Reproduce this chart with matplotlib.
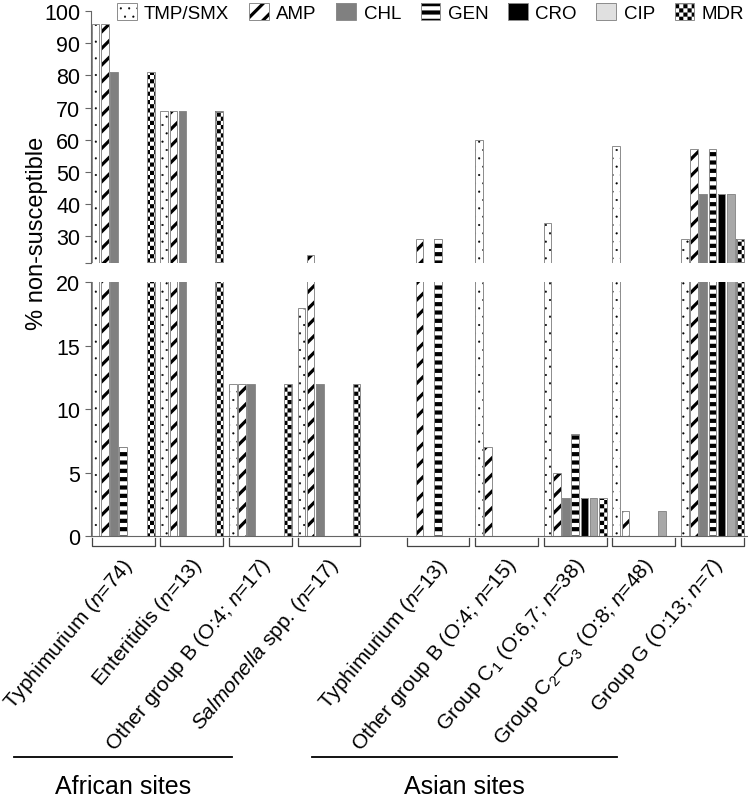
import warnings

import matplotlib
matplotlib.use("Agg")
import matplotlib.pyplot as plt
import matplotlib.hatch as mhatch
import matplotlib.transforms as mtransforms
from matplotlib.legend_handler import HandlerPatch, HandlerTuple
from matplotlib.lines import Line2D
from matplotlib.patches import Patch, Rectangle
from matplotlib.path import Path
import numpy as np

warnings.filterwarnings("ignore")

plt.rcParams['font.family'] = ['Liberation Sans', 'DejaVu Sans']
plt.rcParams['mathtext.fontset'] = 'custom'
plt.rcParams['mathtext.rm'] = 'Liberation Sans'
plt.rcParams['mathtext.it'] = 'Liberation Sans:italic'
plt.rcParams['mathtext.bf'] = 'Liberation Sans:bold'
plt.rcParams['hatch.color'] = 'black'

# ---- data (% non-susceptible) ----
drugs = ['TMP/SMX', 'AMP', 'CHL', 'GEN', 'CRO', 'CIP', 'MDR']
serotypes = [r'Typhimurium ($\mathit{n}$=74)',
             r'Enteritidis ($\mathit{n}$=13)',
             r'Other group B (O:4; $\mathit{n}$=17)',
             r'$\mathit{Salmonella}$ spp. ($\mathit{n}$=17)',
             r'Typhimurium ($\mathit{n}$=13)',
             r'Other group B (O:4; $\mathit{n}$=15)',
             r'Group C$_1$ (O:6,7; $\mathit{n}$=38)',
             r'Group C$_2$–C$_3$ (O:8; $\mathit{n}$=48)',
             r'Group G (O:13; $\mathit{n}$=7)']
sites = ['African sites', 'Asian sites']
site_of = [0, 0, 0, 0, 1, 1, 1, 1, 1]

tmp_smx = [96, 69, 12, 18, 0, 60, 34, 58, 29]
amp = [96, 69, 12, 24, 29, 7, 5, 2, 57]
chl = [81, 69, 12, 12, 0, 0, 3, 0, 43]
gen = [7, 0, 0, 0, 29, 0, 8, 0, 57]
cro = [0, 0, 0, 0, 0, 0, 3, 0, 43]
cip = [0, 0, 0, 0, 0, 0, 3, 2, 43]
mdr = [81, 69, 12, 12, 0, 0, 3, 0, 29]
values = [tmp_smx, amp, chl, gen, cro, cip, mdr]

# ---- styles ----
faces = ['white', 'white', '#808080', 'white', 'black', '#a8a8a8', 'white']
legend_faces = ['white', 'white', '#808080', 'white', 'black', '#e0e0e0', 'white']
hatches = ['..', '//', None, '--', None, None, 'cccc']
hatch_lw = [0.3, 2.3, 1.0, 3.0, 1.0, 1.0, 0.0]
EDGE = '#8c8c8c'
AXIS = '#666666'


# checkerboard hatch ('c'), not part of matplotlib's built-in set
class CheckerHatch(mhatch.HatchPatternBase):
    def __init__(self, hatch, density):
        self.num_cells = hatch.count('c') * int(density)
        self.num_vertices = (self.num_cells ** 2 // 2) * 5

    def set_vertices_and_codes(self, vertices, codes):
        step = 1.0 / self.num_cells
        k = 0
        for i in range(self.num_cells):
            for j in range(self.num_cells):
                if (i + j) % 2:
                    continue
                x0, y0 = i * step, j * step
                vertices[k:k + 5] = [(x0, y0), (x0 + step, y0), (x0 + step, y0 + step),
                                     (x0, y0 + step), (x0, y0)]
                codes[k:k + 5] = [Path.MOVETO, Path.LINETO, Path.LINETO,
                                  Path.LINETO, Path.CLOSEPOLY]
                k += 5


mhatch._hatch_types.append(CheckerHatch)

fig = plt.figure(figsize=(7.48, 8.04), dpi=100)
ax_top = fig.add_axes([0.1217, 0.6716, 0.8783, 0.3131])
ax_bot = fig.add_axes([0.1217, 0.3321, 0.8783, 0.3156])

gap = 0.59
x = np.arange(len(serotypes)) + gap * np.array(site_of)
pitch, width = 0.134, 0.111

for ax in (ax_top, ax_bot):
    for k, vals in enumerate(values):
        xs = x + (k - 3) * pitch
        with plt.rc_context({'hatch.linewidth': hatch_lw[k]}):
            ax.bar(xs, vals, width, color=faces[k], hatch=hatches[k], linewidth=0)
        ax.bar(xs, vals, width, fill=False, edgecolor=EDGE, linewidth=0.7)

ax_top.set_ylim(21.5, 100)
ax_bot.set_ylim(0, 20)
for ax in (ax_top, ax_bot):
    ax.set_xlim(-0.468, 9.11)
    ax.spines['top'].set_visible(False)
    ax.spines['right'].set_visible(False)
    ax.spines['left'].set_color(AXIS)
    ax.tick_params(axis='y', colors=AXIS, labelcolor='black', labelsize=15.5,
                   length=4.3, width=0.8, pad=3.5)
    ax.set_xticks([])
ax_top.spines['bottom'].set_visible(False)
ax_bot.spines['bottom'].set_color(AXIS)
ax_top.set_yticks([21.5] + list(range(30, 101, 10)),
                  [''] + [str(v) for v in range(30, 101, 10)])
ax_bot.set_yticks(range(0, 21, 5))

# brackets and rotated serotype labels
trans = mtransforms.blended_transform_factory(ax_bot.transData, ax_bot.transAxes)
half = 3 * pitch + width / 2
for xc, lab in zip(x, serotypes):
    ax_bot.plot([xc - half, xc - half, xc + half, xc + half],
                [-0.006, -0.04, -0.04, -0.006], transform=trans,
                clip_on=False, color='#444444', lw=0.9)
    ax_bot.text(xc + 0.22, -0.07, lab, transform=trans, rotation=50,
                ha='right', va='top', fontsize=15)

# site groupings
for (x0, x1), xt, name in zip([(14, 232), (312, 617)], [123, 464], sites):
    fig.add_artist(Line2D([x0 / 748, x1 / 748], [0.0572, 0.0572], color='black', lw=1.3))
    fig.text(xt / 748, 0.021, name, ha='center', va='center', fontsize=18)

fig.text(0.049, 0.7096, '% non-susceptible', rotation=90, ha='center',
         va='center', fontsize=17)

# legend
hlw_of = dict(zip(hatches, hatch_lw))


def legend_box(legend, orig_handle, xdescent, ydescent, width, height, fontsize):
    with plt.rc_context({'hatch.linewidth': hlw_of.get(orig_handle.get_hatch(), 1.0)}):
        return Rectangle((-xdescent, -ydescent), width, height)


handles = []
for k in range(len(drugs)):
    with plt.rc_context({'hatch.linewidth': hatch_lw[k]}):
        fill = Patch(facecolor=legend_faces[k], hatch=hatches[k], linewidth=0)
    outline = Patch(facecolor='none', edgecolor=EDGE, linewidth=0.7)
    handles.append((fill, outline))

fig.legend(handles, drugs,
           handler_map={tuple: HandlerTuple(ndivide=1, pad=0),
                        Patch: HandlerPatch(patch_func=legend_box)},
           loc='upper right', bbox_to_anchor=(0.995, 0.995), ncol=7,
           frameon=False, fontsize=13.5, handlelength=1.05, handleheight=1.0,
           handletextpad=0.4, columnspacing=1.05, borderpad=0, borderaxespad=0)

fig.savefig('out.png', dpi=100)
